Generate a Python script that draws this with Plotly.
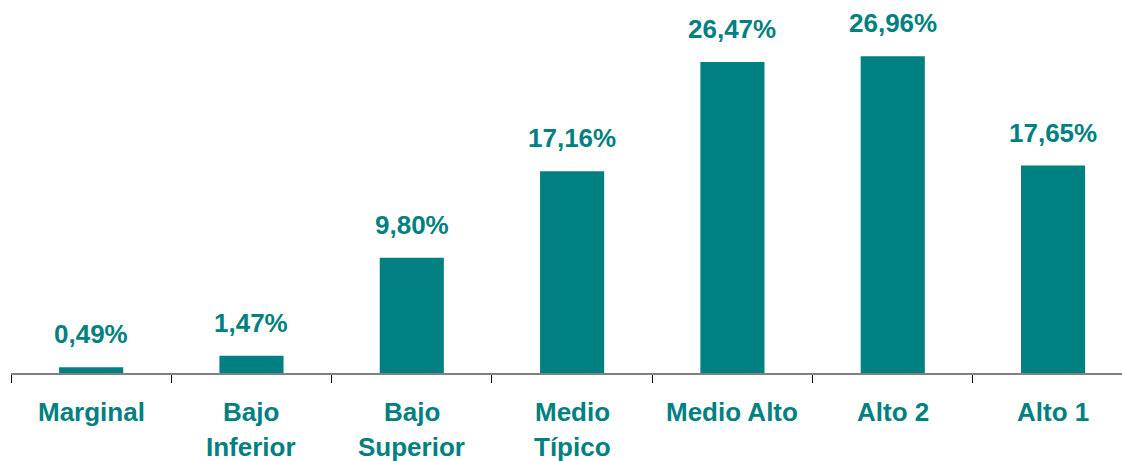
import plotly.graph_objects as go

categories = ["Marginal", "Bajo Inferior", "Bajo Superior", "Medio Típico", "Medio Alto", "Alto 2", "Alto 1"]
label_line1 = ["Marginal", "Bajo", "Bajo", "Medio", "Medio Alto", "Alto 2", "Alto 1"]
label_line2 = ["", "Inferior", "Superior", "Típico", "", "", ""]
values = [0.49, 1.47, 9.80, 17.16, 26.47, 26.96, 17.65]
value_labels = ["0,49%", "1,47%", "9,80%", "17,16%", "26,47%", "26,96%", "17,65%"]

TEAL = "#008080"
FONT = "Liberation Sans, Arial, sans-serif"

fig = go.Figure()
fig.add_trace(go.Bar(
    x=categories, y=values, width=0.4,
    marker=dict(color=TEAL, line=dict(width=0)),
    hoverinfo="skip",
))

annotations = []
for c, v, t in zip(categories, values, value_labels):
    annotations.append(dict(
        x=c, y=v, xref="x", yref="y", text="<b>%s</b>" % t, showarrow=False,
        yanchor="middle", yshift=33,
        font=dict(family=FONT, size=26, color=TEAL),
    ))
for c, l1, l2 in zip(categories, label_line1, label_line2):
    annotations.append(dict(
        x=c, y=0, xref="x", yref="paper", text="<b>%s</b>" % l1, showarrow=False,
        yanchor="middle", yshift=-39,
        font=dict(family=FONT, size=26, color=TEAL),
    ))
    if l2:
        annotations.append(dict(
            x=c, y=0, xref="x", yref="paper", text="<b>%s</b>" % l2, showarrow=False,
            yanchor="middle", yshift=-74,
            font=dict(family=FONT, size=26, color=TEAL),
        ))

fig.update_layout(
    width=1122, height=461,
    margin=dict(l=11, r=0, t=0, b=88),
    paper_bgcolor="white", plot_bgcolor="white",
    showlegend=False,
    annotations=annotations,
    xaxis=dict(
        type="category", range=[-0.5, 6.43],
        showline=True, linecolor="#808080", linewidth=2,
        ticks="outside", tickson="boundaries", ticklen=8, tickcolor="#000000", tickwidth=1,
        showticklabels=False, showgrid=False, zeroline=False, fixedrange=True,
    ),
    yaxis=dict(
        range=[0, 31.74], visible=False, showgrid=False, zeroline=False, fixedrange=True,
    ),
)

fig.write_html(
    "out.html",
    config={"displayModeBar": False},
    post_script="document.body.style.margin='0';document.body.style.overflow='hidden';",
)
